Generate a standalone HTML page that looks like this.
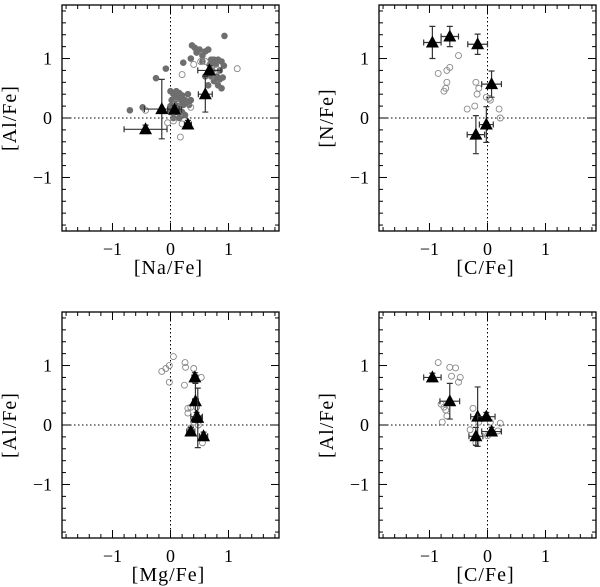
<!DOCTYPE html>
<html><head><meta charset="utf-8"><style>
html,body{margin:0;padding:0;background:#fff;}
svg{display:block;font-family:"Liberation Serif",serif;}
</style></head><body>
<svg id="fig" width="600" height="587" viewBox="0 0 600 587"></svg>
<script>
// Panel 1: [Na/Fe] vs [Al/Fe]
const p1TriX=[-0.43,-0.15,0.07,0.30,0.60,0.67];
const p1TriY=[-0.19,0.15,0.14,-0.11,0.40,0.80];
const p1TriXe=[0.37,0.30,0.12,0.06,0.12,0.20];
const p1TriYe=[0.07,0.50,0.07,0.07,0.30,0.08];
const p1FillX=[-0.7,-0.48,-0.25,-0.08,0.0,0.05,0.1,0.15,0.2,0.02,0.08,0.12,0.18,0.25,0.3,0.35,0.0,0.05,0.1,0.15,0.22,0.32,0.0,0.1,0.2,0.25,0.05,0.15,0.22,0.35,0.37,0.42,0.45,0.5,0.55,0.6,0.65,0.55,0.7,0.75,0.82,0.88,0.92,0.93,0.78,0.68,0.6,0.7,0.8,0.85,0.75,0.82,0.9,0.88,0.65,0.72,0.85];
const p1FillY=[0.13,0.18,0.67,0.83,0.45,0.4,0.45,0.42,0.38,0.3,0.3,0.35,0.3,0.3,0.4,0.3,0.2,0.22,0.2,0.2,0.22,0.22,0.1,0.1,0.1,0.05,0.0,0.0,0.93,1.0,1.22,1.18,1.1,1.15,1.05,1.12,1.15,0.95,0.98,0.98,0.98,0.95,0.88,1.38,0.9,0.9,0.7,0.7,0.7,0.65,0.62,0.55,0.68,0.5,0.55,0.8,0.8];
const p1OpenX=[0.2,0.4,0.52,1.15,0.8,0.7,0.35,0.2,0.17,-0.05,0.05,-0.43,0.1,0.6];
const p1OpenY=[0.73,0.9,0.95,0.83,0.82,0.7,0.18,-0.1,-0.32,-0.08,-0.05,0.13,0.25,0.95];
// Panel 2: [C/Fe] vs [N/Fe]
const p2TriX=[-0.95,-0.65,-0.17,0.07,-0.02,-0.20];
const p2TriY=[1.27,1.37,1.24,0.57,-0.11,-0.28];
const p2TriXe=[0.15,0.15,0.17,0.17,0.12,0.15];
const p2TriYe=[0.27,0.17,0.17,0.22,0.30,0.32];
const p2OpenX=[-0.85,-0.65,-0.7,-0.5,-0.7,-0.72,-0.75,-0.2,-0.18,-0.15,-0.35,-0.22,-0.02,0.05,0.2,0.22,0.03];
const p2OpenY=[0.75,0.85,0.8,1.05,0.6,0.5,0.45,0.6,0.4,0.5,0.15,0.2,0.35,0.3,0.15,0.0,0.33];
// Panel 3: [Mg/Fe] vs [Al/Fe]
const p3TriX=[0.42,0.43,0.45,0.47,0.35,0.57];
const p3TriY=[0.80,0.40,0.14,0.12,-0.11,-0.19];
const p3TriXe=[0.05,0.05,0.1,0.06,0.07,0.07];
const p3TriYe=[0.08,0.30,0.07,0.50,0.07,0.07];
const p3OpenX=[-0.15,-0.08,-0.02,0.05,-0.02,0.25,0.26,0.4,0.53,0.24,0.3,0.35,0.45,0.3,0.4,0.48,0.55,0.35];
const p3OpenY=[0.9,0.95,1.0,1.15,0.72,1.05,0.97,0.95,0.8,0.67,0.28,0.3,0.3,0.2,0.05,0.0,-0.3,-0.05];
// Panel 4: [C/Fe] vs [Al/Fe]
const p4TriX=[-0.95,-0.65,-0.17,-0.02,0.07,-0.20];
const p4TriY=[0.80,0.40,0.14,0.14,-0.11,-0.19];
const p4TriXe=[0.15,0.17,0.12,0.15,0.17,0.12];
const p4TriYe=[0.07,0.30,0.50,0.07,0.07,0.15];
const p4OpenX=[-0.85,-0.65,-0.55,-0.62,-0.47,-0.5,-0.8,-0.75,-0.72,-0.7,-0.78,-0.25,-0.3,-0.2,-0.15,0.05,0.22,0.18,0.0];
const p4OpenY=[1.05,0.97,0.96,0.82,0.8,0.72,0.35,0.3,0.25,0.15,0.05,0.28,-0.08,-0.3,0.05,0.05,0.03,-0.1,-0.18];
const tickLabels=["\u22121","0","1"];
const tickVals=[-1,0,1];

const NS="http://www.w3.org/2000/svg";
const svg=document.getElementById('fig');
function mk(tag,attrs,parent){const e=document.createElementNS(NS,tag);for(const k in attrs)e.setAttribute(k,attrs[k]);(parent||svg).appendChild(e);return e;}

const XMIN=-1.87,XMAX=1.87,YMIN=-1.9,YMAX=1.9;
function panel(name,left,top,xlab,ylab,tx,ty,txe,tye,fx,fy,ox,oy){
  const W=217,H=226;
  const g=mk('g',{});
  
  
  const sx=v=>left+(v-XMIN)/(XMAX-XMIN)*W;
  const sy=v=>top+(YMAX-v)/(YMAX-YMIN)*H;
  const zx=mk('line',{x1:sx(0),x2:sx(0),y1:top,y2:top+H,stroke:'#000','stroke-width':1,'stroke-dasharray':'1.5,2.5'},g);
  
  
  const zy=mk('line',{x1:left,x2:left+W,y1:sy(0),y2:sy(0),stroke:'#000','stroke-width':1,'stroke-dasharray':'1.5,2.5'},g);
  
  
  for(let i=-9;i<=9;i++){
    const v=i*0.2;const major=(i%5===0);const L=major?8:4;
    if(v>XMIN&&v<XMAX){const X=sx(v);
      mk('line',{x1:X,x2:X,y1:top+H,y2:top+H-L,stroke:'#000','stroke-width':1},g);
      mk('line',{x1:X,x2:X,y1:top,y2:top+L,stroke:'#000','stroke-width':1},g);}
    if(v>YMIN&&v<YMAX){const Y=sy(v);
      mk('line',{x1:left,x2:left+L,y1:Y,y2:Y,stroke:'#000','stroke-width':1},g);
      mk('line',{x1:left+W,x2:left+W-L,y1:Y,y2:Y,stroke:'#000','stroke-width':1},g);}
  }
  const fr=mk('rect',{x:left,y:top,width:W,height:H,fill:'none',stroke:'#000','stroke-width':1.3},g);
  
  
  for(let i=0;i<tickVals.length;i++){
    const t1=mk('text',{x:sx(tickVals[i]),y:top+H+24,'font-size':18,'text-anchor':'middle'},g);
    t1.textContent=tickLabels[i];
    
    
    const t2=mk('text',{x:left-10,y:sy(tickVals[i])+6,'font-size':18,'text-anchor':'end'},g);
    t2.textContent=tickLabels[i];
    
    
  }
  const xl=mk('text',{x:left+W/2-2,y:top+H+43,'font-size':20,'text-anchor':'middle','letter-spacing':'1'},g);
  xl.textContent=xlab;
  
  
  const yl=mk('text',{x:0,y:0,'font-size':20,'text-anchor':'middle','letter-spacing':'1',transform:`translate(${left-46},${top+H/2}) rotate(-90)`},g);
  yl.textContent=ylab;
  
  
  for(let i=0;i<fx.length;i++){
    const c=mk('circle',{cx:sx(fx[i]),cy:sy(fy[i]),r:3.3,fill:'#6e6e6e'},g);
    
    
  }
  for(let i=0;i<ox.length;i++){
    const c=mk('circle',{cx:sx(ox[i]),cy:sy(oy[i]),r:3,fill:'none',stroke:'#888','stroke-width':0.9},g);
    
    
  }
  for(let i=0;i<tx.length;i++){
    const X=sx(tx[i]),Y=sy(ty[i]);
    const x1=sx(tx[i]-txe[i]),x2=sx(tx[i]+txe[i]),y1=sy(ty[i]+tye[i]),y2=sy(ty[i]-tye[i]);
    const eb=mk('path',{d:`M${x1},${Y}H${x2}M${x1},${Y-3}V${Y+3}M${x2},${Y-3}V${Y+3}M${X},${y1}V${y2}M${X-3},${y1}H${X+3}M${X-3},${y2}H${X+3}`,stroke:'#333','stroke-width':1.2,fill:'none'},g);
    
    
    const tr=mk('path',{d:`M${X},${Y-7}L${X+6.5},${Y+5}L${X-6.5},${Y+5}Z`,fill:'#000'},g);
    
    
  }
}
panel('panel-na-al',62,5,'[Na/Fe]','[Al/Fe]',p1TriX,p1TriY,p1TriXe,p1TriYe,p1FillX,p1FillY,p1OpenX,p1OpenY);
panel('panel-c-n',379,5,'[C/Fe]','[N/Fe]',p2TriX,p2TriY,p2TriXe,p2TriYe,[],[],p2OpenX,p2OpenY);
panel('panel-mg-al',62,312,'[Mg/Fe]','[Al/Fe]',p3TriX,p3TriY,p3TriXe,p3TriYe,[],[],p3OpenX,p3OpenY);
panel('panel-c-al',379,312,'[C/Fe]','[Al/Fe]',p4TriX,p4TriY,p4TriXe,p4TriYe,[],[],p4OpenX,p4OpenY);
</script>
</body></html>
